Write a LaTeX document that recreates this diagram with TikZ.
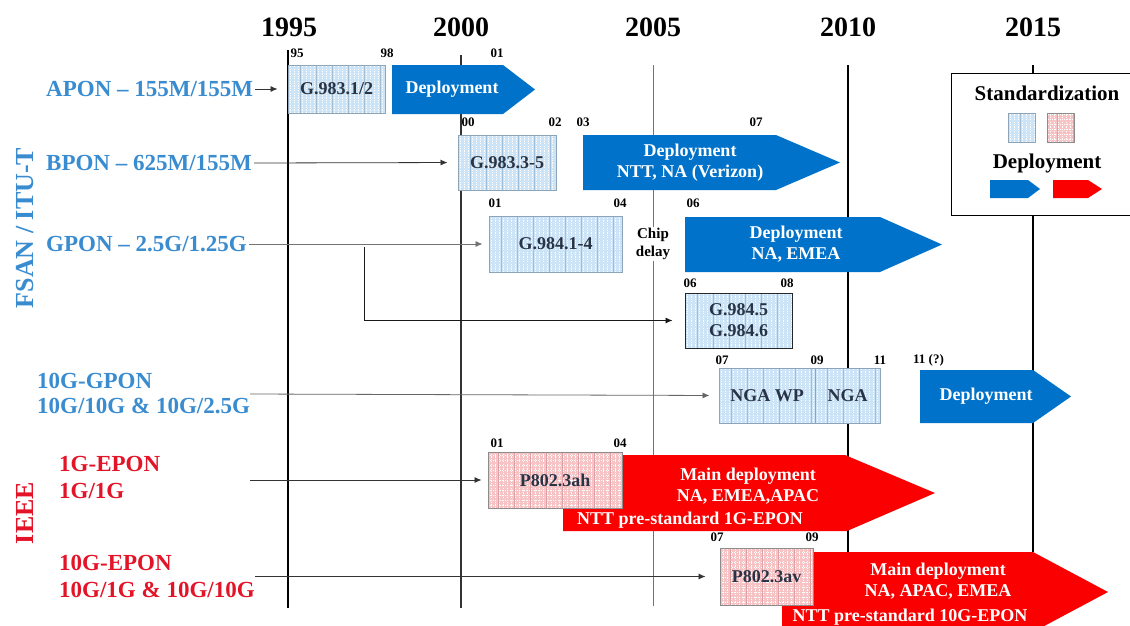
\documentclass[tikz,border=0pt]{standalone}
\usepackage{fontspec}
\setmainfont{Liberation Serif}
\usetikzlibrary{arrows.meta}
\definecolor{lblue}{RGB}{58,140,208}
\definecolor{dblue}{RGB}{0,114,201}
\definecolor{dred}{RGB}{250,0,0}
\definecolor{lred}{RGB}{228,20,40}
\definecolor{sbfill}{RGB}{204,228,246}
\definecolor{sbline}{RGB}{160,190,215}
\definecolor{sbborder}{RGB}{140,165,185}
\definecolor{spfill}{RGB}{247,196,198}
\definecolor{spline}{RGB}{225,160,165}
\definecolor{boxtxt}{RGB}{40,52,70}
\newcommand{\yrf}{\fontsize{28}{30}\selectfont\bfseries}
\newcommand{\lbf}{\fontsize{23}{25}\selectfont\bfseries}
\newcommand{\bxf}{\fontsize{18}{21}\selectfont\bfseries}
\newcommand{\tkf}{\fontsize{13}{14}\selectfont\bfseries}
\tikzset{
  yr/.style={font=\yrf, inner sep=0pt},
  tick/.style={font=\tkf, inner sep=0pt},
  blab/.style={font=\lbf, text=lblue, inner sep=0pt, anchor=west, align=left},
  rlab/.style={font=\lbf, text=lred, inner sep=0pt, anchor=west, align=left},
  vline/.style={line width=1.1pt, draw=black},
  conn/.style={draw=black!80, line width=0.8pt, -{Latex[length=7pt,width=6pt]}},
  deptxt/.style={font=\bxf, text=white, inner sep=0pt, align=center},
  stdblue/.style={draw=sbborder, line width=1pt, fill=sbfill, inner sep=0pt,
    font=\bxf, text=boxtxt, align=center,
    path picture={
      \foreach \k in {2,6,...,150}{\draw[white,line width=0.8pt,dash pattern=on 1.2pt off 1.2pt]
        ([xshift=\k pt]path picture bounding box.south west) -- ([xshift=\k pt]path picture bounding box.north west);}
      \foreach \k in {12,28,...,150}{\draw[sbline,line width=0.7pt]
        ([xshift=\k pt]path picture bounding box.south west) -- ([xshift=\k pt]path picture bounding box.north west);}
    }},
  stdpink/.style={draw=black!45, line width=1pt, fill=spfill, inner sep=0pt,
    font=\bxf, text=boxtxt, align=center,
    path picture={
      \foreach \k in {3,7,...,150}{\draw[white,line width=0.8pt,dash pattern=on 1.2pt off 1.2pt]
        ([xshift=\k pt]path picture bounding box.south west) -- ([xshift=\k pt]path picture bounding box.north west);}
      \foreach \k in {3,8,...,70}{\draw[white,line width=0.6pt,dash pattern=on 1pt off 1.4pt]
        ([yshift=\k pt]path picture bounding box.south west) -- ([yshift=\k pt]path picture bounding box.south east);}
      \foreach \k in {10,26,...,150}{\draw[spline,line width=0.7pt]
        ([xshift=\k pt]path picture bounding box.south west) -- ([xshift=\k pt]path picture bounding box.north west);}
    }},
}
\begin{document}
\begin{tikzpicture}[x=1pt,y=-1pt]
\path[use as bounding box] (0,0) rectangle (1130,625);
\clip (0,0) rectangle (1130,625);
\fill[white] (0,0) rectangle (1130,625);

% years
\node[yr] (y1995) at (289,27) {1995};
\node[yr] (y2000) at (461,27) {2000};
\node[yr] (y2005) at (653,27) {2005};
\node[yr] (y2010) at (848,27) {2010};
\node[yr] (y2015) at (1033,27) {2015};

% vertical year lines
\draw[vline] (288,50) -- (288,608);
\draw[vline, draw=black!80] (461,55) -- (461,608);
\draw[line width=0.8pt, draw=black!55] (653,65) -- (653,606);
\draw[vline] (848,65) -- (848,552);
\draw[vline] (1033,65) -- (1033,552);

% legend
\draw[line width=1pt, fill=white] (951,73) rectangle (1140,215);
\node[font=\fontsize{21}{24}\selectfont\bfseries, inner sep=0pt] (lgstd) at (1047,93) {Standardization};
\node[stdblue, minimum width=27pt, minimum height=29pt] (lgsb) at (1022,127.5) {};
\node[stdpink, minimum width=27pt, minimum height=29pt] (lgsp) at (1061,127.5) {};
\node[font=\fontsize{21}{24}\selectfont\bfseries, inner sep=0pt] (lgdep) at (1047,163) {Deployment};
\fill[dblue] (990,180) -- (1028,180) -- (1040,189) -- (1028,198) -- (990,198) -- cycle;
\fill[dred] (1053,180) -- (1088,180) -- (1102,189) -- (1088,198) -- (1053,198) -- cycle;

% group labels
\node[rotate=90, font=\fontsize{26}{28}\selectfont\bfseries, text=lblue, inner sep=0pt] (fsan) at (25,228) {FSAN / ITU-T};
\node[rotate=90, font=\fontsize{26}{28}\selectfont\bfseries, text=lred, inner sep=0pt] (ieee) at (25,513) {IEEE};

% row labels
\node[blab] (apon) at (46,89) {APON – 155M/155M};
\node[blab] (bpon) at (46,163) {BPON – 625M/155M};
\node[blab] (gpon) at (46,244) {GPON – 2.5G/1.25G};
\node[blab] (xgpon) at (37,394) {10G-GPON\\10G/10G \& 10G/2.5G};
\node[rlab, font=\fontsize{23}{27}\selectfont\bfseries] (epon) at (59,477) {1G-EPON\\1G/1G};
\node[rlab, font=\fontsize{23}{27}\selectfont\bfseries] (xepon) at (59,576.5) {10G-EPON\\10G/1G \& 10G/10G};

% ---- APON row
\node[stdblue, minimum width=97pt, minimum height=48pt] (b9831) at (336.5,89) {G.983.1/2};
\fill[dblue] (392,65) -- (503,65) -- (535,89.5) -- (503,114) -- (392,114) -- cycle;
\node[deptxt] (depA) at (452,89.5) {Deployment};
\node[tick] at (297,53) {95};
\node[tick] at (387,53) {98};
\node[tick] at (497,53) {01};

% ---- BPON row
\node[stdblue, minimum width=98pt, minimum height=55pt] (b9833) at (507,162.5) {G.983.3-5};
\fill[dblue] (583,135) -- (776,135) -- (840,162.5) -- (776,190) -- (583,190) -- cycle;
\node[deptxt] (depB) at (690,162.5) {Deployment\\NTT, NA (Verizon)};
\node[tick] at (468,122) {00};
\node[tick] at (555,122) {02};
\node[tick] at (583,122) {03};
\node[tick] at (756,122) {07};

% ---- GPON row
\node[stdblue, minimum width=133pt, minimum height=56pt] (b9841) at (555.5,244) {G.984.1-4};
\node[font=\fontsize{15}{18}\selectfont\bfseries, fill=white, inner sep=1pt, align=center] (chip) at (653,244) {Chip\\delay};
\fill[dblue] (685,217) -- (880,217) -- (942,244.5) -- (880,272) -- (685,272) -- cycle;
\node[deptxt] (depC) at (796,244.5) {Deployment\\NA, EMEA};
\node[tick] at (495,203) {01};
\node[tick] at (620,203) {04};
\node[tick] at (693,203) {06};

% ---- G.984.5/6
\node[stdblue, draw=black!85, minimum width=107pt, minimum height=55pt] (b9845) at (738.5,320.5) {G.984.5\\G.984.6};
\node[tick] at (690,283) {06};
\node[tick] at (787,283) {08};

% ---- 10G-GPON row
\node[stdblue, minimum width=96pt, minimum height=55pt] (ngawp) at (767,395.5) {NGA WP};
\node[stdblue, minimum width=65pt, minimum height=55pt] (nga) at (847.5,395.5) {NGA};
\fill[dblue] (920,370) -- (1033,370) -- (1071,396.5) -- (1033,423) -- (920,423) -- cycle;
\node[deptxt] (depD) at (986,396.5) {Deployment};
\node[tick] at (722,360) {07};
\node[tick] at (817,360) {09};
\node[tick] at (880,360) {11};
\node[tick, anchor=west] at (913,360) {11 (?)};

% ---- 1G-EPON row
\fill[dred] (622,455) -- (845,455) -- (935,493) -- (847,531) -- (563,531) -- (563,508) -- (622,508) -- cycle;
\node[stdpink, minimum width=134pt, minimum height=56pt] (p8023ah) at (555,480) {P802.3ah};
\node[deptxt] (depE) at (748,486.5) {Main deployment\\NA, EMEA,APAC};
\node[deptxt] (depE2) at (690,520) {NTT pre-standard 1G-EPON};
\node[tick] at (497,443) {01};
\node[tick] at (620,443) {04};

% ---- 10G-EPON row
\fill[dred] (813,552) -- (1033,552) -- (1108,592) -- (1033,632) -- (782,632) -- (782,605) -- (813,605) -- cycle;
\node[stdpink, minimum width=93pt, minimum height=57pt] (p8023av) at (766.5,576.5) {P802.3av};
\node[deptxt] (depF) at (938,581.5) {Main deployment\\NA, APAC, EMEA};
\node[deptxt] (depF2) at (910,617) {NTT pre-standard 10G-EPON};
\node[tick] at (717,537) {07};
\node[tick] at (812,537) {09};

% ---- connectors
\coordinate (lstart) at (364,247);
\coordinate (estart) at (250,480);
\draw[conn, shorten <=2pt, shorten >=10pt] (apon.east) -- (b9831.west);
\draw[conn, shorten <=2pt, shorten >=10pt] (bpon.east) -- (b9833.west);
\draw[conn, draw=black!55, shorten <=2pt, shorten >=6pt] (gpon.east) -- (b9841.west);
\draw[conn, draw=black!90, shorten >=12pt] (lstart) |- (b9845.west);
\draw[conn, draw=black!60, shorten >=9pt] (xgpon.east) -- (ngawp.west);
\draw[conn, shorten >=6pt] (estart) -- (p8023ah.west);
\draw[conn, shorten >=14pt] (xepon.east) -- (p8023av.west);
\end{tikzpicture}
\end{document}
